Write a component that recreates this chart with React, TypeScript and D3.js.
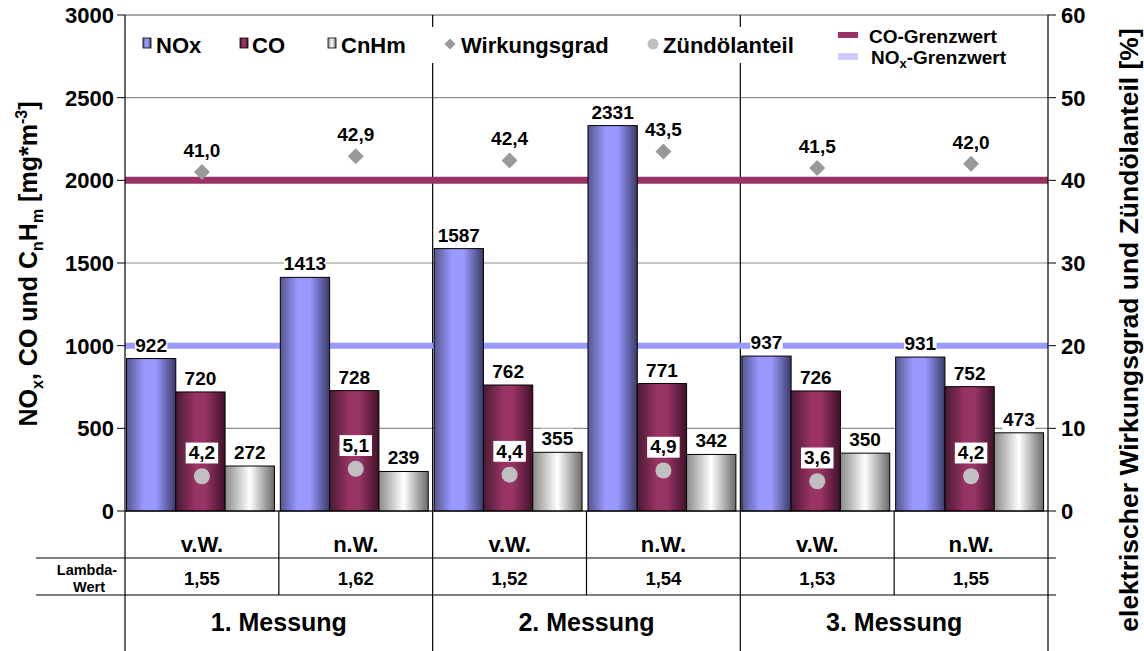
import React from "react";
import * as d3 from "d3";

const slots = ["1v", "1n", "2v", "2n", "3v", "3n"];
const slotLabels = ["v.W.", "n.W.", "v.W.", "n.W.", "v.W.", "n.W."];
const groups = ["1. Messung", "2. Messung", "3. Messung"];
const seriesNames = ["NOx", "CO", "CnHm"];
const noxValues = [922, 1413, 1587, 2331, 937, 931];
const coValues = [720, 728, 762, 771, 726, 752];
const cnhmValues = [272, 239, 355, 342, 350, 473];
const wirkungsgrad = [41.0, 42.9, 42.4, 43.5, 41.5, 42.0];
const zuendoel = [4.2, 5.1, 4.4, 4.9, 3.6, 4.2];
const lambdaValues = [1.55, 1.62, 1.52, 1.54, 1.53, 1.55];
const coLimit = 2000;
const noxLimit = 1000;
const leftTicks = [0, 500, 1000, 1500, 2000, 2500, 3000];
const rightTicks = [0, 10, 20, 30, 40, 50, 60];

const FONT = "'Liberation Sans', Arial, sans-serif";
const X0 = 125, X1 = 1048, Y0 = 511, YT = 15;
const ROW1 = 558, ROW2 = 595, BOTTOM = 651;

const fmt1 = (v: number) => d3.format(".1f")(v).replace(".", ",");
const fmt2 = (v: number) => d3.format(".2f")(v).replace(".", ",");

export default function App() {
  const x = d3.scaleBand<string>().domain(slots).range([X0, X1]).padding(0);
  const xg = d3.scaleBand<string>().domain(groups).range([X0, X1]).padding(0);
  const inner = d3
    .scaleBand<string>()
    .domain(seriesNames)
    .range([0, x.bandwidth()])
    .paddingInner(0)
    .paddingOuter(0.06)
    .align(0.25);
  const yL = d3.scaleLinear().domain([0, 3000]).range([Y0, YT]);
  const yR = d3.scaleLinear().domain([0, 60]).range([Y0, YT]);

  const seriesData = [noxValues, coValues, cnhmValues];
  const grads = ["gNox", "gCo", "gCn"];

  const labelBox = (cx: number, baseline: number, text: string, size: number, key: string) => {
    const w = text.length * size * 0.5 + 4;
    return (
      <g key={key}>
        <rect x={cx - w / 2} y={baseline - size * 0.88} width={w} height={size * 1.1} fill="#fff" />
        <text x={cx} y={baseline} textAnchor="middle" fontSize={size} fontWeight="bold" fill="#000">
          {text}
        </text>
      </g>
    );
  };

  const diamond = (cx: number, cy: number, r: number, key: string) => (
    <path key={key} d={`M${cx},${cy - r}L${cx + r},${cy}L${cx},${cy + r}L${cx - r},${cy}Z`} fill="#999999" />
  );

  return (
    <div style={{ position: "fixed", left: 0, top: 0 }}>
      <svg width={1144} height={651} style={{ display: "block", fontFamily: FONT }}>
        <defs>
          <linearGradient id="gNox" x1="0" x2="1" y1="0" y2="0">
            <stop offset="0" stopColor="#55558f" />
            <stop offset="0.35" stopColor="#9999ff" />
            <stop offset="0.6" stopColor="#9999ff" />
            <stop offset="1" stopColor="#3a3a68" />
          </linearGradient>
          <linearGradient id="gCo" x1="0" x2="1" y1="0" y2="0">
            <stop offset="0" stopColor="#4a1a32" />
            <stop offset="0.4" stopColor="#993366" />
            <stop offset="0.6" stopColor="#993366" />
            <stop offset="1" stopColor="#3f1228" />
          </linearGradient>
          <linearGradient id="gCn" x1="0" x2="1" y1="0" y2="0">
            <stop offset="0" stopColor="#8a8a8a" />
            <stop offset="0.5" stopColor="#ffffff" />
            <stop offset="1" stopColor="#6a6a6a" />
          </linearGradient>
        </defs>
        <rect x={0} y={0} width={1144} height={651} fill="#fff" />

        {/* gridlines */}
        {leftTicks.map((t) => (
          <line key={"g" + t} x1={X0} x2={X1} y1={yL(t)} y2={yL(t)} stroke={t === 3000 ? "#555" : "#8c8c8c"} strokeWidth={1.2} />
        ))}

        {/* group separators in plot */}
        {groups.slice(1).map((g) => (
          <line key={"vs" + g} x1={xg(g)!} x2={xg(g)!} y1={YT} y2={BOTTOM} stroke="#000" strokeWidth={1.2} />
        ))}

        {/* limit lines */}
        <line x1={X0} x2={X1} y1={yL(coLimit)} y2={yL(coLimit)} stroke="#993366" strokeWidth={7} />
        <line x1={X0} x2={X1} y1={yL(noxLimit)} y2={yL(noxLimit)} stroke="#9999ff" strokeWidth={6} />

        {/* bars */}
        {slots.map((s, i) =>
          seriesNames.map((n, k) => {
            const v = seriesData[k][i];
            const bx = x(s)! + inner(n)!;
            return (
              <rect
                key={s + n}
                x={bx}
                y={yL(v)}
                width={inner.bandwidth()}
                height={Y0 - yL(v)}
                fill={`url(#${grads[k]})`}
                stroke="#000"
                strokeWidth={1}
              />
            );
          })
        )}

        {/* bar labels */}
        {slots.map((s, i) =>
          seriesNames.map((n, k) => {
            const v = seriesData[k][i];
            const cx = x(s)! + inner(n)! + inner.bandwidth() / 2;
            return labelBox(cx, yL(v) - 7, String(v), 19, "l" + s + n);
          })
        )}

        {/* Wirkungsgrad */}
        {slots.map((s, i) => {
          const cx = x(s)! + x.bandwidth() / 2;
          const cy = yR(wirkungsgrad[i]);
          return (
            <g key={"w" + s}>
              {diamond(cx, cy, 8, "d" + s)}
              <text x={cx} y={cy - 15} textAnchor="middle" fontSize={19} fontWeight="bold">
                {fmt1(wirkungsgrad[i])}
              </text>
            </g>
          );
        })}

        {/* Zuendoel */}
        {slots.map((s, i) => {
          const cx = x(s)! + x.bandwidth() / 2;
          const cy = yR(zuendoel[i]);
          return (
            <g key={"z" + s}>
              <circle cx={cx} cy={cy} r={8} fill="#c0c0c0" />
              {labelBox(cx, cy - 17, fmt1(zuendoel[i]), 19, "zl" + s)}
            </g>
          );
        })}

        {/* legend left */}
        <rect x={133} y={27} width={690} height={36} fill="#fff" />
        <rect x={143} y={38} width={8} height={10} fill="url(#gNox)" stroke="#000" strokeWidth={0.8} />
        <text x={156} y={53} fontSize={22} fontWeight="bold">NOx</text>
        <rect x={240} y={38} width={8} height={10} fill="url(#gCo)" stroke="#000" strokeWidth={0.8} />
        <text x={252} y={53} fontSize={22} fontWeight="bold">CO</text>
        <rect x={328} y={38} width={8} height={10} fill="url(#gCn)" stroke="#000" strokeWidth={0.8} />
        <text x={341} y={53} fontSize={22} fontWeight="bold">CnHm</text>
        {diamond(450, 44, 5.5, "ld")}
        <text x={461} y={53} fontSize={22} fontWeight="bold">Wirkungsgrad</text>
        <circle cx={653} cy={44} r={5.5} fill="#c0c0c0" />
        <text x={663} y={53} fontSize={22} fontWeight="bold">Zündölanteil</text>

        {/* legend right */}
        <rect x={838} y={32} width={20} height={6} fill="#993366" />
        <text x={869} y={43} fontSize={19} fontWeight="bold">CO-Grenzwert</text>
        <rect x={838} y={53} width={20} height={7} fill="#ccccff" />
        <text x={871} y={64} fontSize={19} fontWeight="bold">
          NO<tspan dy={4} fontSize={13}>x</tspan>
          <tspan dy={-4}>-Grenzwert</tspan>
        </text>

        {/* axes */}
        <line x1={X0} x2={X0} y1={YT} y2={BOTTOM} stroke="#000" strokeWidth={1.2} />
        <line x1={X1} x2={X1} y1={YT} y2={BOTTOM} stroke="#000" strokeWidth={1.2} />
        <line x1={X0} x2={X1} y1={Y0} y2={Y0} stroke="#000" strokeWidth={1.2} />
        {leftTicks.map((t) => (
          <g key={"lt" + t}>
            <line x1={X0 - 8} x2={X0} y1={yL(t)} y2={yL(t)} stroke="#000" />
            <text x={X0 - 11} y={yL(t) + 8} textAnchor="end" fontSize={22} fontWeight="bold">{t}</text>
          </g>
        ))}
        {rightTicks.map((t) => (
          <g key={"rt" + t}>
            <line x1={X1} x2={X1 + 8} y1={yR(t)} y2={yR(t)} stroke="#000" />
            <text x={X1 + 13} y={yR(t) + 8} textAnchor="start" fontSize={22} fontWeight="bold">{t}</text>
          </g>
        ))}

        {/* table */}
        <line x1={36} x2={X1 + 8} y1={ROW1} y2={ROW1} stroke="#000" strokeWidth={1.2} />
        <line x1={36} x2={X1 + 8} y1={ROW2} y2={ROW2} stroke="#000" strokeWidth={1.2} />
        {slots.filter((_, i) => i % 2 === 1).map((s) => (
          <line key={"ts" + s} x1={x(s)!} x2={x(s)!} y1={Y0} y2={ROW2} stroke="#000" strokeWidth={1.2} />
        ))}
        {slots.map((s, i) => (
          <g key={"tb" + s}>
            <text x={x(s)! + x.bandwidth() / 2} y={552} textAnchor="middle" fontSize={22} fontWeight="bold">
              {slotLabels[i]}
            </text>
            <text x={x(s)! + x.bandwidth() / 2} y={585} textAnchor="middle" fontSize={18.5} fontWeight="bold">
              {fmt2(lambdaValues[i])}
            </text>
          </g>
        ))}
        <text x={87} y={575} textAnchor="middle" fontSize={14.5} fontWeight="bold">Lambda-</text>
        <text x={89} y={592} textAnchor="middle" fontSize={14.5} fontWeight="bold">Wert</text>
        {groups.map((g) => (
          <text key={"gl" + g} x={xg(g)! + xg.bandwidth() / 2} y={631} textAnchor="middle" fontSize={25} fontWeight="bold">
            {g}
          </text>
        ))}

        {/* axis titles */}
        <text transform="translate(37,264) rotate(-90)" textAnchor="middle" fontSize={25} fontWeight="bold">
          NO<tspan dy={6} fontSize={16}>x</tspan>
          <tspan dy={-6}>, CO und C</tspan>
          <tspan dy={6} fontSize={16}>n</tspan>
          <tspan dy={-6}>H</tspan>
          <tspan dy={6} fontSize={16}>m</tspan>
          <tspan dy={-6}> [mg*m</tspan>
          <tspan dy={-10} fontSize={16}>-3</tspan>
          <tspan dy={10}>]</tspan>
        </text>
        <text transform="translate(1138,330) rotate(-90)" textAnchor="middle" fontSize={26.5} fontWeight="bold">
          elektrischer Wirkungsgrad und Zündölanteil [%]
        </text>
      </svg>
    </div>
  );
}
